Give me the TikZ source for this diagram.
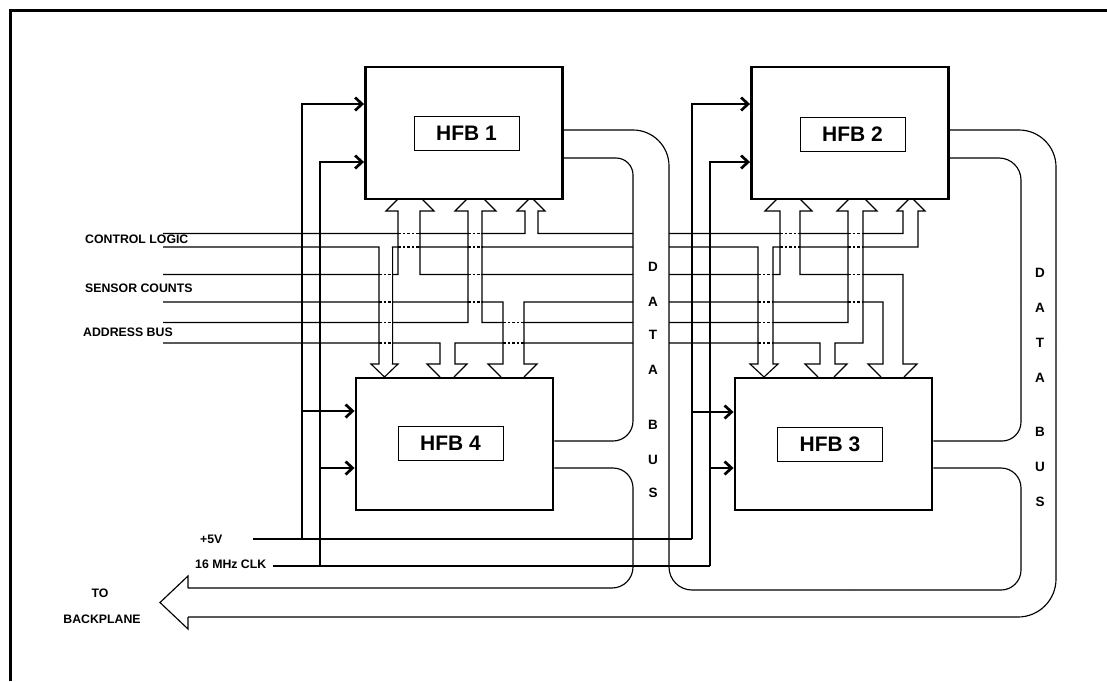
\documentclass[tikz,border=0pt]{standalone}
\usepackage{fontspec}
\setmainfont{Liberation Sans}
\usetikzlibrary{arrows.meta}
\newcommand\crossbus[5]{%
  \fill[white] (#1+0.6,#3+0.6) rectangle (#2-0.6,#4-0.6);
  \foreach \yy in {#5}{\draw[crossing] (#1,\yy) -- (#2,\yy);}}
\begin{document}
\begin{tikzpicture}[x=1pt,y=-1pt,
  ln/.style={line width=1.15pt},
  pw/.style={line width=2.7pt},
  hfb/.style={draw,line width=2.9pt,minimum width=197pt,minimum height=132pt,inner sep=0pt},
  lbl/.style={draw,line width=1pt,minimum width=105pt,minimum height=34pt,inner sep=0pt,font=\fontsize{21}{21}\selectfont\bfseries},
  sig/.style={font=\fontsize{12.3}{12.3}\selectfont\bfseries,inner sep=0pt,anchor=west},
  bl/.style={font=\fontsize{13.5}{13.5}\selectfont\bfseries,inner sep=0pt},
  crossing/.style={line width=1.15pt,dash pattern=on 2.5pt off 2pt},
  pwarrow/.style={pw,-{Straight Barb[length=7pt,width=13pt]}}
]
\useasboundingbox (0,0) rectangle (1107,681);
% frame
\draw[line width=3.5pt] (10.5,681) -- (10.5,10.5) -- (1107,10.5);

% boxes
\node[hfb] (hfb1) at (464,133) {};
\node[hfb] (hfb2) at (850,133) {};
\node[hfb] (hfb4) at (454.5,444) {};
\node[hfb] (hfb3) at (833.5,444) {};
\node[lbl] (t1) at (466.5,133) {HFB 1};
\node[lbl] (t2) at (852.5,134) {HFB 2};
\node[lbl] (t4) at (450.5,443.5) {HFB 4};
\node[lbl] (t3) at (830,444.5) {HFB 3};

% ---------- left column signal buses ----------
% control logic
\draw[ln] (163,233.5) -- (525,233.5) -- (525,211) -- (517,211) -- (529,199);
\draw[ln] (533,199) -- (545,211) -- (538,211) -- (538,233.5) -- (633,233.5);
\draw[ln] (163,247) -- (379,247) -- (379,364) -- (371,364) -- (384.5,377) -- (398,364) -- (392.5,364) -- (392.5,247) -- (633,247);
% sensor counts
\draw[ln] (163,274.5) -- (398,274.5) -- (398,211) -- (386,211) -- (398,199);
\draw[ln] (422,199) -- (434,211) -- (420,211) -- (420,274.5) -- (633,274.5);
\draw[ln] (163,302) -- (503,302) -- (503,364) -- (488,364) -- (501,377);
\draw[ln] (524,377) -- (537,364) -- (524,364) -- (524,302) -- (633,302);
% address bus
\draw[ln] (163,322.5) -- (468,322.5) -- (468,211) -- (455,211) -- (467,199);
\draw[ln] (484,199) -- (496,211) -- (482,211) -- (482,322.5) -- (633,322.5);
\draw[ln] (163,343) -- (440,343) -- (440,364) -- (427,364) -- (440,377);
\draw[ln] (454,377) -- (467,364) -- (455,364) -- (455,343) -- (633,343);

% ---------- right column signal buses ----------
\draw[ln] (669,233.5) -- (903,233.5) -- (903,211) -- (897,211) -- (909,199);
\draw[ln] (913,199) -- (925,211) -- (918,211) -- (918,247) -- (773,247) -- (773,364) -- (778,364) -- (764,377) -- (750,364) -- (758,364) -- (758,247) -- (669,247);
\draw[ln] (669,274.5) -- (780,274.5) -- (780,211) -- (765,211) -- (777,199);
\draw[ln] (800,199) -- (812,211) -- (800,211) -- (800,274.5) -- (903,274.5) -- (903,364) -- (917,364) -- (904,377);
\draw[ln] (881,377) -- (868,364) -- (883,364) -- (883,302) -- (669,302);
\draw[ln] (669,322.5) -- (848,322.5) -- (848,211) -- (837,211) -- (849,199);
\draw[ln] (865,199) -- (877,211) -- (863,211) -- (863,343) -- (835,343) -- (835,364) -- (847,364) -- (834,377);
\draw[ln] (818,377) -- (805,364) -- (820,364) -- (820,343) -- (669,343);

% crossings (dashed where a line passes inside another bus)
\crossbus{398}{420}{211}{274.5}{233.5,247}
\crossbus{468}{482}{211}{322.5}{233.5,247,274.5,302}
\crossbus{379}{392.5}{247}{364}{274.5,302,322.5,343}
\crossbus{503}{524}{302}{364}{322.5,343}
\crossbus{780}{800}{211}{274.5}{233.5,247}
\crossbus{848}{863}{211}{322.5}{233.5,247,274.5,302}
\crossbus{758}{773}{247}{364}{274.5,302,322.5,343}

% ---------- data buses ----------
\draw[ln,rounded corners=36pt] (hfb1.east |- 0,130) -- (669,130) -- (669,350);
\draw[ln,rounded corners=23pt] (669,350) -- (669,590) -- (850,590);
\draw[ln,rounded corners=20pt] (850,590) -- (1021,590) -- (1021,530);
\draw[ln,rounded corners=20pt] (1021,530) -- (1021,468) -- (hfb3.east |- 0,468);
\draw[ln,rounded corners=17pt] (hfb1.east |- 0,158) -- (633,158) -- (633,300);
\draw[ln,rounded corners=20pt] (633,300) -- (633,441) -- (hfb4.east |- 0,441);
\draw[ln,rounded corners=20pt] (hfb4.east |- 0,468) -- (633,468) -- (633,530);
\draw[ln,rounded corners=21pt] (633,530) -- (633,588) -- (188,588);
\draw[ln,rounded corners=37pt] (hfb2.east |- 0,130) -- (1056,130) -- (1056,350);
\draw[ln,rounded corners=38pt] (1056,350) -- (1056,617) -- (188,617);
\draw[ln,rounded corners=22pt] (hfb2.east |- 0,158) -- (1021,158) -- (1021,300);
\draw[ln,rounded corners=19pt] (1021,300) -- (1021,441) -- (hfb3.east |- 0,441);
% backplane arrow head
\coordinate (bpt) at (188,588);
\coordinate (bpb) at (188,617);
\draw[ln] (bpt) -- (188,576) -- (160,602.5) -- (188,629) -- (bpb);

% ---------- power and clock ----------
\draw[pw] (253,539) -- (692,539);
\draw[pw] (273,566) -- (710,566);
\draw[pwarrow] (302,539) -- (302,104) -- (hfb1.west |- 0,104);
\draw[pwarrow] (302,411) -- (hfb4.west |- 0,411);
\draw[pwarrow] (320,566) -- (320,162) -- (hfb1.west |- 0,162);
\draw[pwarrow] (320,468) -- (hfb4.west |- 0,468);
\draw[pwarrow] (692,539) -- (692,104) -- (hfb2.west |- 0,104);
\draw[pwarrow] (692,412) -- (hfb3.west |- 0,412);
\draw[pwarrow] (710,566) -- (710,162) -- (hfb2.west |- 0,162);
\draw[pwarrow] (710,468) -- (hfb3.west |- 0,468);

% ---------- texts ----------
\node[sig] (cl) at (85,239.5) {CONTROL LOGIC};
\node[sig] (sc) at (85,288) {SENSOR COUNTS};
\node[sig] (ab) at (83,332) {ADDRESS BUS};
\node[sig] (v5) at (200,539) {+5V};
\node[sig] (ck) at (195,564) {16 MHz CLK};
\node[sig,anchor=center] (to) at (100,593) {TO};
\node[sig,anchor=center] (bp) at (102,619) {BACKPLANE};

\foreach \c/\yy [count=\i] in {D/267,A/302,T/335,A/370,B/425,U/460,S/493}
  \node[bl] (dl\i) at (653,\yy) {\c};
\foreach \c/\yy [count=\i] in {D/273,A/308,T/343,A/378,B/432,U/467,S/502}
  \node[bl] (dr\i) at (1040,\yy) {\c};
\end{tikzpicture}
\end{document}
